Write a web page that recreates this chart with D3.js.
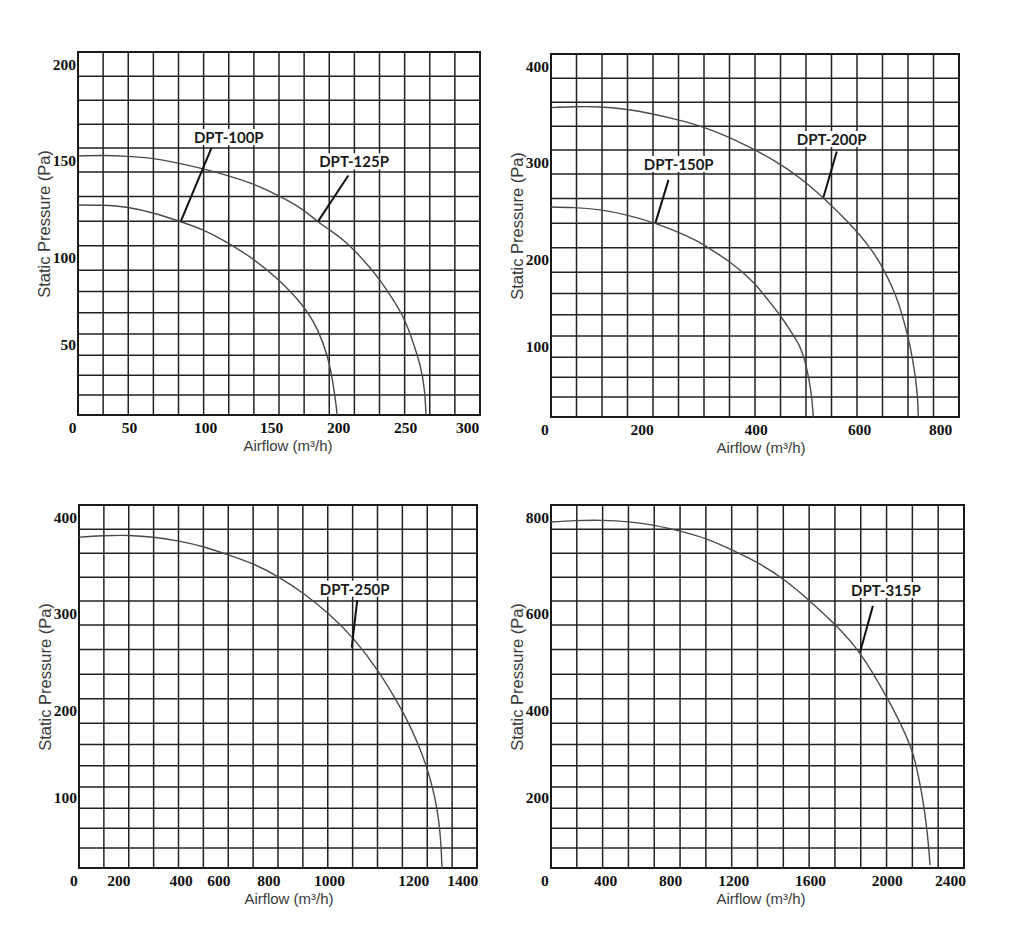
<!DOCTYPE html>
<html>
<head>
<meta charset="utf-8">
<title>DPT fan performance curves</title>
<style>
  body { margin: 0; background: #fff; }
  svg { display: block; }
  .grid line { stroke: #222; stroke-width: 1.5; }
  .frame { fill: none; stroke: #1a1a1a; stroke-width: 2; }
  .tick text { font-family: "Liberation Serif", serif; font-weight: bold; font-size: 15.5px; fill: #111; }
  .title { font-family: "Liberation Sans", Arial, sans-serif; font-size: 15px; fill: #3a3a3a; }
  .title.y { font-size: 16.5px; }
  .curve { fill: none; stroke: #4a4a4a; stroke-width: 1.4; }
  .leader { stroke: #111; stroke-width: 2; }
  .note { font-family: Lato, "Open Sans", sans-serif; font-weight: bold; font-size: 15px; fill: #1a1a1a; }
</style>
<script src="https://cdnjs.cloudflare.com/ajax/libs/d3/7.8.5/d3.min.js"></script>
</head>
<body>
<svg id="chart" width="1024" height="948"></svg>
<script>
// tick labels of the four panels
const xTicksA = [0, 50, 100, 150, 200, 250, 300];
const yTicksA = [50, 100, 150, 200];
const xTicksB = [0, 200, 400, 600, 800];
const yTicksB = [100, 200, 300, 400];
const xTicksC = [0, 200, 400, 600, 800, 1000, 1200, 1400];
const yTicksC = [100, 200, 300, 400];
const xTicksD = [0, 400, 800, 1200, 1600, 2000, 2400];
const yTicksD = [200, 400, 600, 800];

// airflow (m3/h) and static pressure (Pa)
const flow100 = [0, 27, 49, 66, 84, 99, 117, 136, 155, 174, 185, 192.5, 196, 198.5, 199.5];
const pres100 = [127, 127, 126, 123, 118.5, 114.5, 108, 100, 89, 73.5, 59.5, 43, 28, 13.5, 5];
const flow125 = [0, 27, 49, 66, 82, 99, 117, 136, 155, 174, 185.3, 194, 204, 214, 224, 231, 239, 248.7, 255.6, 263, 266, 267];
const pres125 = [152, 152.5, 152, 151, 148.5, 145.5, 142, 138, 132, 125, 118, 114.3, 109.3, 102.8, 95, 88.4, 79.2, 67, 53.6, 36.4, 22, 5];
const flow150 = [0, 63, 114, 166, 223, 285, 308, 331.5, 355, 378, 399, 421, 447, 466, 486, 495, 503, 509, 511.5];
const pres150 = [254, 253.5, 251.5, 246.5, 238, 223.5, 216, 207, 198, 187, 174, 157, 137.5, 120, 101, 84, 61.5, 36, 12.5];
const flow200 = [0, 63, 114, 166, 215, 258, 302, 346, 390, 437, 486, 531, 579, 627, 660, 693, 709, 722, 732, 740, 745, 746.5];
const pres200 = [356.5, 358, 358, 355.5, 351, 345, 338, 328, 315.5, 301.5, 284, 263.5, 239, 213.5, 192, 159, 133.5, 110, 86, 61, 36, 12.5];
const flow250 = [0, 136, 234, 314, 394, 524, 643, 743, 835, 918, 1000, 1059, 1119, 1156, 1178, 1223, 1257, 1280, 1297, 1308, 1314, 1317];
const pres250 = [379, 381, 381.5, 379.5, 375.5, 369.5, 360.5, 351.5, 338, 320.5, 299.5, 274.5, 240, 213.5, 197.5, 162, 134, 110.5, 87, 62, 37, 12.5];
const flow315 = [0, 218, 380, 548, 703, 863, 1028, 1194, 1330, 1466, 1600, 1734, 1866, 2000, 2080, 2158, 2186, 2215, 2236, 2253, 2266, 2274];
const pres315 = [789, 793.5, 794, 791, 784, 771.5, 756.5, 731.5, 705.5, 671, 625.5, 575.5, 519.5, 429, 380, 316, 276, 224, 177, 125.5, 74.5, 32];

// model labels: leader tip on the curve, leader end, label centre (data units)
const notesA = [
  { name: 'DPT-100P', tip: [84, 118.5], end: [105, 156.5], text: [118, 162] },
  { name: 'DPT-125P', tip: [185, 118.5], end: [207.7, 142], text: [212, 149.3] }
];
const notesB = [
  { name: 'DPT-150P', tip: [224, 237.5], end: [247, 281.5], text: [265, 298] },
  { name: 'DPT-200P', tip: [531, 263.5], end: [557, 311], text: [547, 324] }
];
const notesC = [
  { name: 'DPT-250P', tip: [1054, 264.5], end: [1067, 313.5], text: [1061, 325.5] }
];
const notesD = [
  { name: 'DPT-315P', tip: [1861, 519.5], end: [1928, 615], text: [1996, 648] }
];

const zipSeries = (f, p) => f.map((v, i) => [v, p[i]]);

// layout: the scanned grid rows are not evenly spaced, so the y scale is pinned
// to the rows that carry the labels (row index -> offset from the top)
const rowIdx = [0, 1, 5, 9, 13, 16];
const rowPx = [0, 24.3, 120, 218.3, 303.2, 363];

const panels = [
  { box: [78, 52, 402, 363], xTicks: xTicksA, xTickPx: [-6, 51, 127, 193, 260, 327, 389],
    yTicks: yTicksA, yTop: 206.25, yStep: 12.5,
    series: [zipSeries(flow100, pres100), zipSeries(flow125, pres125)], notes: notesA },
  { box: [551, 54, 408, 363], xTicks: xTicksB, xTickPx: [-6.7, 90.7, 204.7, 308, 389],
    yTicks: yTicksB, yTop: 412.5, yStep: 25,
    series: [zipSeries(flow150, pres150), zipSeries(flow200, pres200)], notes: notesB },
  { box: [79, 505, 398, 363], xTicks: xTicksC, xTickPx: [-5.7, 39.3, 101.7, 139.3, 189.3, 250, 334.3, 383.3],
    yTicks: yTicksC, yTop: 412.5, yStep: 25,
    series: [zipSeries(flow250, pres250)], notes: notesC },
  { box: [551, 505, 413, 363], xTicks: xTicksD, xTickPx: [-6.7, 54, 119, 182.3, 259, 335.7, 399],
    yTicks: yTicksD, yTop: 825, yStep: 50,
    series: [zipSeries(flow315, pres315)], notes: notesD }
];

const svg = d3.select('#chart');
svg.append('rect').attr('width', 1024).attr('height', 948).attr('fill', '#fff');

panels.forEach((p, i) => {
  const [bx, by, bw, bh] = p.box;
  const g = svg.append('g');

  const x = d3.scaleLinear().domain(p.xTicks).range(p.xTickPx.map(v => bx + v));
  const y = d3.scaleLinear()
    .domain(rowIdx.map(k => p.yTop - p.yStep * k))
    .range(rowPx.map(v => by + v));

  // grid
  const grid = g.append('g').attr('class', 'grid');
  grid.selectAll('line.v').data(d3.range(17)).join('line')
    .attr('class', 'v')
    .attr('x1', k => bx + k * bw / 16).attr('x2', k => bx + k * bw / 16)
    .attr('y1', by).attr('y2', by + bh);
  grid.selectAll('line.h').data(d3.range(17)).join('line')
    .attr('class', 'h')
    .attr('x1', bx).attr('x2', bx + bw)
    .attr('y1', k => y(p.yTop - p.yStep * k)).attr('y2', k => y(p.yTop - p.yStep * k));

  g.append('rect').attr('class', 'frame')
    .attr('x', bx).attr('y', by).attr('width', bw).attr('height', bh);

  // curves
  g.append('clipPath').attr('id', 'clip' + i)
    .append('rect').attr('x', bx).attr('y', by).attr('width', bw).attr('height', bh);

  const line = d3.line()
    .x(d => x(d[0]))
    .y(d => y(d[1]))
    .curve(d3.curveBasis);

  g.append('g').attr('clip-path', `url(#clip${i})`)
    .selectAll('path').data(p.series).join('path')
    .attr('class', 'curve')
    .attr('d', line);

  // axes
  const fmt = d3.format('d');
  g.append('g')
    .attr('transform', `translate(0,${by + bh})`)
    .call(d3.axisBottom(x).tickValues(p.xTicks).tickFormat(fmt).tickSize(0).tickPadding(7))
    .call(a => a.select('.domain').remove());

  g.append('g')
    .attr('transform', `translate(${bx},0)`)
    .call(d3.axisLeft(y).tickValues(p.yTicks).tickFormat(fmt).tickSize(0).tickPadding(2))
    .call(a => a.select('.domain').remove());

  g.append('text').attr('class', 'title')
    .attr('x', bx + 210).attr('y', by + bh + 30)
    .attr('text-anchor', 'middle').attr('dominant-baseline', 'central')
    .text('Airflow (m³/h)');

  g.append('text').attr('class', 'title y')
    .attr('transform', `translate(${bx - 34},${by + 172}) rotate(-90)`)
    .attr('text-anchor', 'middle').attr('dominant-baseline', 'central')
    .text('Static Pressure (Pa)');

  // model labels with leaders
  p.notes.forEach(n => {
    g.append('line').attr('class', 'leader')
      .attr('x1', x(n.tip[0])).attr('y1', y(n.tip[1]))
      .attr('x2', x(n.end[0])).attr('y2', y(n.end[1]));

    const t = g.append('text').attr('class', 'note')
      .attr('x', x(n.text[0])).attr('y', y(n.text[1]))
      .attr('text-anchor', 'middle').attr('dominant-baseline', 'central')
      .text(n.name);
    const bb = t.node().getBBox();
    g.insert('rect', () => t.node())
      .attr('x', bb.x - 2).attr('y', bb.y + 1)
      .attr('width', bb.width + 4).attr('height', bb.height - 2)
      .attr('fill', '#fff');
  });
});
</script>
</body>
</html>
